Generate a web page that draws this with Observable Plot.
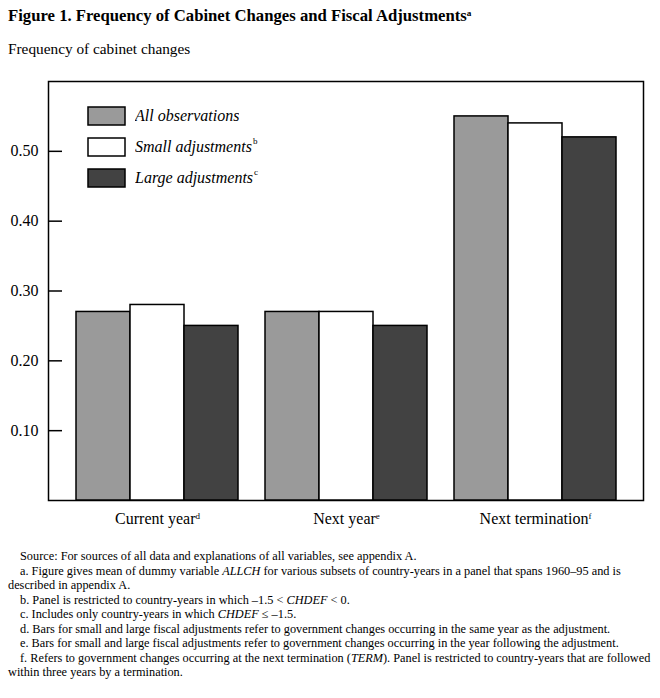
<!DOCTYPE html>
<html><head><meta charset="utf-8">
<script src="https://cdn.jsdelivr.net/npm/d3@7"></script>
<script src="https://cdn.jsdelivr.net/npm/@observablehq/plot@0.6"></script>
<style>
body{margin:0;background:#fff;font-family:"Liberation Serif","Times New Roman",serif;color:#000;}
#wrap{position:relative;width:660px;height:698px;overflow:hidden;}
#title{position:absolute;left:8px;top:7px;font-weight:bold;font-size:16.7px;line-height:17px;white-space:nowrap;}
#subtitle{position:absolute;left:8px;top:41px;font-size:15.3px;line-height:16px;white-space:nowrap;}
.layer{position:absolute;left:0;top:0;}
#legend{position:absolute;left:88px;top:100px;}
#legend svg{overflow:visible;margin-right:10px !important;}
#legend rect{stroke:#000;stroke-width:1.5px;}
#legend .lsup{font-size:9px;font-style:normal;position:relative;top:-6px;margin-left:1px;}
#notes{position:absolute;left:8px;top:549px;width:648px;font-size:12.3px;line-height:14.5px;}
#notes div{margin:0;white-space:nowrap;}
#notes .ind{padding-left:12px;}
sup{font-size:0.55em;vertical-align:0.55em;line-height:0;}
</style>
</head><body>
<div id="wrap">
  <div id="axes" class="layer"></div>
  <div id="bars" class="layer"></div>
  <div id="title">Figure 1. Frequency of Cabinet Changes and Fiscal Adjustments<sup>a</sup></div>
  <div id="subtitle">Frequency of cabinet changes</div>
  <div id="legend"></div>
  <div id="notes">
    <div class="ind">Source: For sources of all data and explanations of all variables, see appendix A.</div>
    <div class="ind">a. Figure gives mean of dummy variable <i>ALLCH</i> for various subsets of country-years in a panel that spans 1960–95 and is</div>
    <div>described in appendix A.</div>
    <div class="ind">b. Panel is restricted to country-years in which –1.5 &lt; <i>CHDEF</i> &lt; 0.</div>
    <div class="ind">c. Includes only country-years in which <i>CHDEF</i> ≤ –1.5.</div>
    <div class="ind">d. Bars for small and large fiscal adjustments refer to government changes occurring in the same year as the adjustment.</div>
    <div class="ind">e. Bars for small and large fiscal adjustments refer to government changes occurring in the year following the adjustment.</div>
    <div class="ind">f. Refers to government changes occurring at the next termination (<i>TERM</i>). Panel is restricted to country-years that are followed</div>
    <div>within three years by a termination.</div>
  </div>
</div>
<script>
const categories = ["Current year", "Next year", "Next termination"];
const categoryNotes = ["d", "e", "f"];
const series = ["All observations", "Small adjustments", "Large adjustments"];
const seriesNotes = ["", "b", "c"];
const allObservations = [0.27, 0.27, 0.55];
const smallAdjustments = [0.28, 0.27, 0.54];
const largeAdjustments = [0.25, 0.25, 0.52];
const seriesColors = ["#9a9a9a", "#ffffff", "#424242"];
const yTicks = [0.10, 0.20, 0.30, 0.40, 0.50];
const yDomain = [0, 0.6];

const seriesValues = [allObservations, smallAdjustments, largeAdjustments];
const data = categories.flatMap((c, i) =>
  series.map((s, j) => ({category: c, series: s, value: seriesValues[j][i]})));

const common = {
  width: 660, height: 540,
  marginTop: 81, marginBottom: 40, marginLeft: 48, marginRight: 17,
  style: {fontFamily: "'Liberation Serif', 'Times New Roman', serif", fontSize: "16px", background: "transparent", color: "#000", overflow: "visible"},
  y: {domain: yDomain, axis: null}
};

// Layer 1: value axis and frame
const axes = Plot.plot({
  ...common,
  marks: [
    Plot.axisY(yTicks, {tickSize: -14, tickPadding: 24, tickFormat: d3.format(".2f"), label: null, fontSize: 16, strokeWidth: 1.5}),
    Plot.frame({strokeWidth: 1.5})
  ]
});
document.getElementById("axes").appendChild(axes);

// Layer 2: grouped bars and group labels
const bars = Plot.plot({
  ...common,
  fx: {domain: categories, paddingInner: 0.143, paddingOuter: 0.1455, label: null},
  x: {domain: series, padding: 0, axis: null},
  color: {domain: series, range: seriesColors},
  marks: [
    Plot.barY(data, {fx: "category", x: "series", y: "value", fill: "series", stroke: "#000", strokeWidth: 1.5}),
    Plot.axisFx({anchor: "bottom", tickSize: 0, tickPadding: 12, label: null, fontSize: 16})
  ]
});
document.getElementById("bars").appendChild(bars);

// superscript footnote markers on group labels
d3.select(bars).selectAll("g[aria-label='fx-axis tick label'] text").each(function() {
  const t = d3.select(this);
  const i = categories.indexOf(t.text());
  if (i >= 0) t.append("tspan").attr("dy", "-0.55em").attr("font-size", "9px").text(categoryNotes[i]);
});

const legend = Plot.legend({
  color: {type: "ordinal", domain: series, range: seriesColors},
  legend: "swatches", columns: 1, swatchWidth: 37, swatchHeight: 18,
  style: {fontFamily: "'Liberation Serif', 'Times New Roman', serif", fontSize: "16px", fontStyle: "italic", color: "#000"}
});
document.getElementById("legend").appendChild(legend);
legend.querySelectorAll("svg").forEach((svg, i) => {
  const item = svg.parentElement;
  item.style.height = "31px";
  item.style.display = "flex";
  item.style.alignItems = "center";
  item.style.margin = "0";
  item.style.padding = "0";
  if (seriesNotes[i]) {
    const sup = document.createElement("span");
    sup.className = "lsup";
    sup.textContent = seriesNotes[i];
    item.appendChild(sup);
  }
});
</script>
</body></html>
